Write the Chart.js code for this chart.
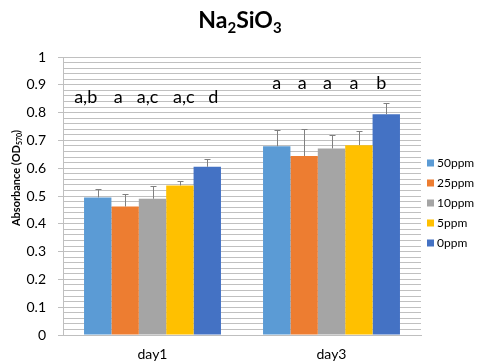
<!DOCTYPE html>
<html>
<head>
<meta charset="utf-8">
<script src="https://cdn.jsdelivr.net/npm/chart.js@4.4.1/dist/chart.umd.min.js"></script>
<style>
  html, body { margin: 0; padding: 0; background: #fff; }
  #wrap { width: 478px; height: 364px; }
</style>
</head>
<body>
<div id="wrap"><canvas id="c" width="478" height="364"></canvas></div>
<script>
// Absorbance (OD570) per sampling day and Na2SiO3 concentration
const days = ['day1', 'day3'];
const doses = ['50ppm', '25ppm', '10ppm', '5ppm', '0ppm'];
const ppm50 = [0.495, 0.679];
const ppm25 = [0.462, 0.644];
const ppm10 = [0.490, 0.671];
const ppm5  = [0.538, 0.683];
const ppm0  = [0.605, 0.794];
// standard deviations (upper error bars)
const sd50 = [0.030, 0.057];
const sd25 = [0.045, 0.096];
const sd10 = [0.045, 0.047];
const sd5  = [0.015, 0.050];
const sd0  = [0.027, 0.040];
// significance letters per bar, per day
const lettersDay1 = ['a,b', 'a', 'a,c', 'a,c', 'd'];
const lettersDay3 = ['a', 'a', 'a', 'a', 'b'];
const yTicksMajor = [0, 0.1, 0.2, 0.3, 0.4, 0.5, 0.6, 0.7, 0.8, 0.9, 1];

const colors = ['#5B9BD5', '#ED7D31', '#A5A5A5', '#FFC000', '#4472C4'];
const seriesValues = [ppm50, ppm25, ppm10, ppm5, ppm0];
const seriesErrors = [sd50, sd25, sd10, sd5, sd0];
const letterRows = [lettersDay1, lettersDay3];
// letter placement: value height per day and small horizontal nudges
const letterLevel = [0.835, 0.885];
const letterNudge = [[-12, -7, -5, 4, 6], [0, -2, -4, -5, -5]];

const FONT = 'Lato, "Open Sans", sans-serif';

const datasets = doses.map((d, i) => ({
  label: d,
  data: seriesValues[i],
  errors: seriesErrors[i],
  backgroundColor: colors[i],
  borderWidth: 0,
  categoryPercentage: 0.765,
  barPercentage: 1.0
}));

const extras = {
  id: 'extras',
  afterDatasetsDraw(chart) {
    const ctx = chart.ctx;
    const ys = chart.scales.y;
    // error bars
    ctx.save();
    ctx.strokeStyle = '#808080';
    ctx.lineWidth = 1;
    chart.data.datasets.forEach((ds, di) => {
      const meta = chart.getDatasetMeta(di);
      meta.data.forEach((bar, j) => {
        const top = ys.getPixelForValue(ds.data[j]);
        const hi = ys.getPixelForValue(ds.data[j] + ds.errors[j]);
        const x = Math.round(bar.x) + 0.5;
        ctx.beginPath();
        ctx.moveTo(x, top);
        ctx.lineTo(x, Math.round(hi) + 0.5);
        ctx.moveTo(x - 3, Math.round(hi) + 0.5);
        ctx.lineTo(x + 3, Math.round(hi) + 0.5);
        ctx.stroke();
      });
    });
    ctx.restore();

    // significance letters
    ctx.save();
    ctx.fillStyle = '#000';
    ctx.font = '18px ' + FONT;
    ctx.textAlign = 'center';
    ctx.textBaseline = 'alphabetic';
    letterRows.forEach((row, dayIdx) => {
      row.forEach((txt, di) => {
        const bar = chart.getDatasetMeta(di).data[dayIdx];
        ctx.fillText(txt, bar.x + letterNudge[dayIdx][di], ys.getPixelForValue(letterLevel[dayIdx]));
      });
    });
    ctx.restore();
  },
  afterDraw(chart) {
    const ctx = chart.ctx;
    ctx.save();
    ctx.fillStyle = '#000';
    // title with subscripts
    const parts = [['Na', 0], ['2', 1], ['SiO', 0], ['3', 1]];
    const big = 'bold 23px ' + FONT, small = 'bold 15px ' + FONT;
    let w = 0;
    parts.forEach(p => { ctx.font = p[1] ? small : big; w += ctx.measureText(p[0]).width; });
    let x = 240 - w / 2;
    ctx.textBaseline = 'alphabetic';
    ctx.textAlign = 'left';
    parts.forEach(p => {
      ctx.font = p[1] ? small : big;
      ctx.fillText(p[0], x, p[1] ? 33 : 28);
      x += ctx.measureText(p[0]).width;
    });

    // rotated y-axis title
    ctx.save();
    ctx.translate(20, 178);
    ctx.rotate(-Math.PI / 2);
    const yParts = [['Absorbance (OD', 0], ['570', 1], [')', 0]];
    const yb = 'bold 11px ' + FONT, ys2 = 'bold 7px ' + FONT;
    let yw = 0;
    yParts.forEach(p => { ctx.font = p[1] ? ys2 : yb; yw += ctx.measureText(p[0]).width; });
    let yx = -yw / 2;
    yParts.forEach(p => {
      ctx.font = p[1] ? ys2 : yb;
      ctx.fillText(p[0], yx, p[1] ? 2 : 0);
      yx += ctx.measureText(p[0]).width;
    });
    ctx.restore();

    // legend
    ctx.font = '12px ' + FONT;
    ctx.textBaseline = 'middle';
    chart.data.datasets.forEach((ds, i) => {
      const cy = 163 + i * 20;
      ctx.fillStyle = ds.backgroundColor;
      ctx.fillRect(427, cy - 3.5, 7, 7);
      ctx.fillStyle = '#000';
      ctx.fillText(ds.label, 437, cy);
    });
    ctx.restore();
  }
};

new Chart(document.getElementById('c'), {
  type: 'bar',
  data: { labels: days, datasets },
  options: {
    responsive: false,
    animation: false,
    layout: { padding: { top: 57, right: 57, left: 0, bottom: 0 } },
    plugins: { legend: { display: false }, title: { display: false }, tooltip: { enabled: false } },
    scales: {
      x: {
        grid: { display: false, drawTicks: false },
        border: { color: '#BFBFBF' },
        ticks: { color: '#000', font: { family: FONT, size: 14 }, padding: 11 },
        afterFit(s) { s.height = 29; }
      },
      y: {
        min: 0, max: 1,
        afterBuildTicks(s) {
          const t = [];
          for (let k = 0; k <= 50; k++) t.push({ value: k / 50 });
          s.ticks = t;
        },
        ticks: {
          color: '#000',
          font: { family: FONT, size: 14 },
          padding: 12,
          autoSkip: false,
          callback(v) {
            const m = yTicksMajor.find(q => Math.abs(q - v) < 1e-6);
            return m === undefined ? '' : String(m);
          }
        },
        grid: {
          color: '#C0C0C0',
          lineWidth: 1,
          tickLength: 5,
          tickColor(c) {
            const v = c.tick ? c.tick.value : -1;
            return yTicksMajor.some(q => Math.abs(q - v) < 1e-6) ? '#BFBFBF' : 'rgba(0,0,0,0)';
          }
        },
        border: { color: '#BFBFBF' },
        afterFit(s) { s.width = 63; }
      }
    }
  },
  plugins: [extras]
});
</script>
</body>
</html>
